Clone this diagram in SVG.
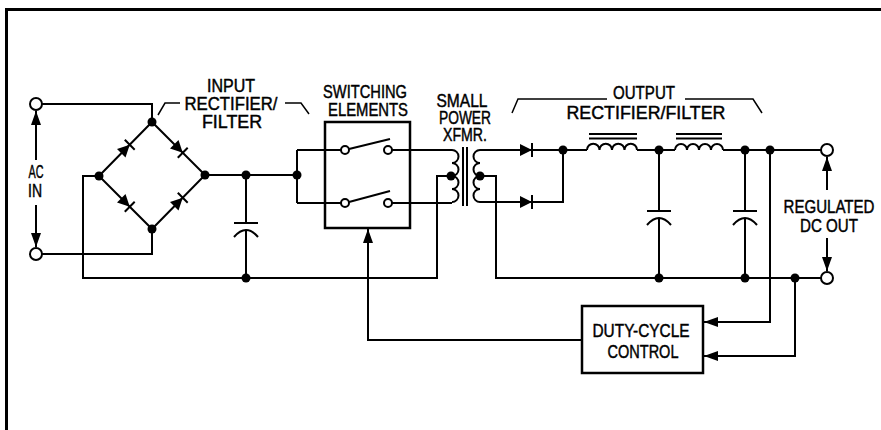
<svg xmlns="http://www.w3.org/2000/svg" width="881" height="430" viewBox="0 0 881 430">
<style>
.w{fill:none;stroke:#000;stroke-width:2;stroke-linejoin:miter}
.dot{fill:#000}
.term{fill:#fff;stroke:#000;stroke-width:2}
.t{font-family:"Liberation Sans",Arial,sans-serif;font-size:18px;fill:#000;stroke:#000;stroke-width:0.45;text-anchor:middle}
.box{fill:#fff;stroke:#000;stroke-width:2.5}
</style>
<defs>
<marker id="ah" viewBox="0 0 14 10" refX="14" refY="5" markerWidth="14" markerHeight="10" orient="auto" markerUnits="userSpaceOnUse">
<path d="M0,0 L14,5 L0,10 Z" fill="#000"/>
</marker>
<g id="diode">
<path d="M-6,-6 L6,0 L-6,6 Z" fill="#000"/>
<path d="M6,-7 V7" stroke="#000" stroke-width="2"/>
</g>
<g id="cap">
<path d="M-12,0 H12" stroke="#000" stroke-width="2"/>
<path d="M-12,14 Q0,0 12,14" fill="none" stroke="#000" stroke-width="2"/>
</g>
</defs>
<rect width="881" height="430" fill="#fff"/>
<path d="M6.5,430 V9.5 H881" fill="none" stroke="#000" stroke-width="3"/>

<g id="connectors">
<path class="w" d="M42,104 H152 V122"/>
<path class="w" d="M42,254 H152 V229"/>
<path class="w" d="M99,176 L152,122 L205,175 L152,229 Z"/>
<path class="w" d="M99,176 H83 V278 H437 V176 H451"/>
<path class="w" d="M205,175 H297"/>
<path class="w" d="M297,150 V203"/>
<path class="w" d="M297,150 H342"/>
<path class="w" d="M297,203 H342"/>
<path class="w" d="M246,175 V223"/>
<path class="w" d="M246,230 V278"/>
<path class="w" d="M392,150 H452"/>
<path class="w" d="M392,203 H452"/>
<path class="w" d="M480,150 H563"/>
<path class="w" d="M480,202 H563 V150"/>
<path class="w" d="M480,176 H496 V278 H821"/>
<path class="w" d="M563,150 H587"/>
<path class="w" d="M637,150 H675"/>
<path class="w" d="M723,150 H821"/>
<path class="w" d="M659,150 V211"/>
<path class="w" d="M659,218 V278"/>
<path class="w" d="M745,150 V211"/>
<path class="w" d="M745,218 V278"/>
<path class="w" d="M770,150 V322 H704" marker-end="url(#ah)"/>
<path class="w" d="M795,278 V356 H704" marker-end="url(#ah)"/>
<path class="w" d="M582,340 H368 V229" marker-end="url(#ah)"/>
<path class="w" d="M36,160 V111" marker-end="url(#ah)"/>
<path class="w" d="M36,205 V247" marker-end="url(#ah)"/>
<path class="w" d="M827,190 V157" marker-end="url(#ah)"/>
<path class="w" d="M827,238 V271" marker-end="url(#ah)"/>
<path class="w" style="stroke-width:1.5" d="M180,103 H165 L158,115"/>
<path class="w" style="stroke-width:1.5" d="M285,103 H301 L309,114"/>
<path class="w" style="stroke-width:1.5" d="M512,113 L518,99 H607"/>
<path class="w" style="stroke-width:1.5" d="M685,99 H753 L762,113"/>
</g>

<g id="ac-in">
<circle class="term" cx="36" cy="104" r="6"/>
<circle class="term" cx="36" cy="254" r="6"/>
<text class="t" x="36" y="178" textLength="15" lengthAdjust="spacingAndGlyphs">AC</text>
<text class="t" x="35" y="197" textLength="14" lengthAdjust="spacingAndGlyphs">IN</text>
</g>

<g id="input-rectifier">
<use href="#diode" transform="translate(125.5,149) rotate(-45)"/>
<use href="#diode" transform="translate(178.5,148.5) rotate(45)"/>
<use href="#diode" transform="translate(125.5,202.5) rotate(45)"/>
<use href="#diode" transform="translate(178.5,202) rotate(-45)"/>
<circle class="dot" cx="152" cy="122" r="4.5"/>
<circle class="dot" cx="99" cy="176" r="4.5"/>
<circle class="dot" cx="205" cy="175" r="4.5"/>
<circle class="dot" cx="152" cy="229" r="4.5"/>
<use href="#cap" transform="translate(246,223)"/>
<circle class="dot" cx="246" cy="175" r="4.5"/>
<circle class="dot" cx="246" cy="278" r="4.5"/>
<circle class="dot" cx="297" cy="175" r="4.5"/>
<text class="t" x="231" y="92" textLength="48" lengthAdjust="spacingAndGlyphs">INPUT</text>
<text class="t" x="231" y="110" textLength="93" lengthAdjust="spacingAndGlyphs">RECTIFIER/</text>
<text class="t" x="232" y="128" textLength="60" lengthAdjust="spacingAndGlyphs">FILTER</text>
</g>

<g id="switching-elements">
<rect x="325" y="122" width="85" height="106" fill="none" stroke="#000" stroke-width="2.5"/>
<path class="w" d="M349,149 L390,139"/>
<path class="w" d="M349,202 L390,191"/>
<circle class="term" cx="345" cy="150" r="4"/>
<circle class="term" cx="388" cy="150" r="4"/>
<circle class="term" cx="345" cy="203" r="4"/>
<circle class="term" cx="388" cy="203" r="4"/>
<text class="t" x="365" y="98" textLength="84" lengthAdjust="spacingAndGlyphs">SWITCHING</text>
<text class="t" x="368" y="116" textLength="80" lengthAdjust="spacingAndGlyphs">ELEMENTS</text>
</g>

<g id="transformer">
<path class="w" d="M452,150 a6.5,6.5 0 0 1 0,13 a6.5,6.5 0 0 1 0,13 a6.5,6.5 0 0 1 0,13 a6.5,6.5 0 0 1 0,13"/>
<path class="w" d="M480,150 a6.5,6.5 0 0 0 0,13 a6.5,6.5 0 0 0 0,13 a6.5,6.5 0 0 0 0,13 a6.5,6.5 0 0 0 0,13"/>
<path class="w" d="M463,147 V206 M467,147 V206"/>
<circle class="dot" cx="451" cy="176" r="4.5"/>
<circle class="dot" cx="480" cy="176" r="4.5"/>
<text class="t" x="462" y="107" textLength="51" lengthAdjust="spacingAndGlyphs">SMALL</text>
<text class="t" x="465" y="124" textLength="52" lengthAdjust="spacingAndGlyphs">POWER</text>
<text class="t" x="465" y="141" textLength="44" lengthAdjust="spacingAndGlyphs">XFMR.</text>
</g>

<g id="output-rectifier">
<use href="#diode" transform="translate(526,150)"/>
<use href="#diode" transform="translate(526,202)"/>
<circle class="dot" cx="563" cy="150" r="4.5"/>
<path class="w" d="M587,150 a6.25,6.25 0 0 1 12.5,0 a6.25,6.25 0 0 1 12.5,0 a6.25,6.25 0 0 1 12.5,0 a6.25,6.25 0 0 1 12.5,0"/>
<path class="w" d="M589,134 H637 M589,138.5 H637"/>
<path class="w" d="M675,150 a6,6 0 0 1 12,0 a6,6 0 0 1 12,0 a6,6 0 0 1 12,0 a6,6 0 0 1 12,0"/>
<path class="w" d="M676,134 H722 M676,138.5 H722"/>
<use href="#cap" transform="translate(659,211)"/>
<use href="#cap" transform="translate(745,211)"/>
<circle class="dot" cx="659" cy="150" r="4.5"/>
<circle class="dot" cx="745" cy="150" r="4.5"/>
<circle class="dot" cx="770" cy="150" r="4.5"/>
<circle class="dot" cx="659" cy="278" r="4.5"/>
<circle class="dot" cx="745" cy="278" r="4.5"/>
<circle class="dot" cx="795" cy="278" r="4.5"/>
<text class="t" x="644" y="99" textLength="62" lengthAdjust="spacingAndGlyphs">OUTPUT</text>
<text class="t" x="646" y="119" textLength="159" lengthAdjust="spacingAndGlyphs">RECTIFIER/FILTER</text>
</g>

<g id="dc-out">
<circle class="term" cx="827" cy="150" r="6"/>
<circle class="term" cx="827" cy="278" r="6"/>
<text class="t" x="829" y="213" textLength="91" lengthAdjust="spacingAndGlyphs">REGULATED</text>
<text class="t" x="829" y="232" textLength="58" lengthAdjust="spacingAndGlyphs">DC OUT</text>
</g>

<g id="duty-cycle-control">
<rect class="box" x="582" y="306" width="121" height="67"/>
<text class="t" x="641" y="337" textLength="97" lengthAdjust="spacingAndGlyphs">DUTY-CYCLE</text>
<text class="t" x="643" y="358" textLength="71" lengthAdjust="spacingAndGlyphs">CONTROL</text>
</g>
</svg>
